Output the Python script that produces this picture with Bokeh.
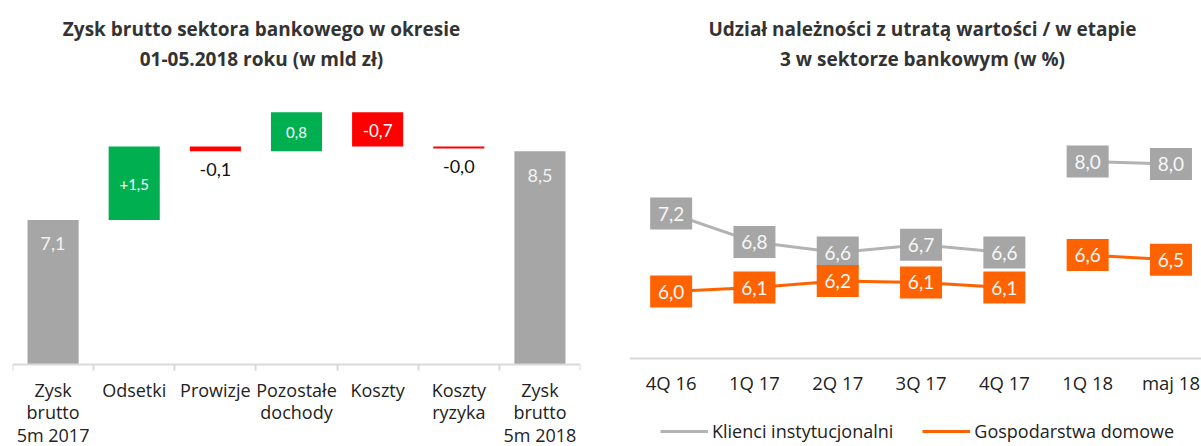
from bokeh.plotting import figure
from bokeh.layouts import row
from bokeh.models import (ColumnDataSource, FixedTicker, Label, Legend, LegendItem,
                          Range1d, LinearAxis)
from bokeh.embed import file_html
from bokeh.resources import INLINE
from bokeh.core.properties import value

# ---------------- data: left chart (waterfall) ----------------
wf_categories = ["Zysk\nbrutto\n5m 2017", "Odsetki", "Prowizje", "Pozostałe\ndochody",
                 "Koszty", "Koszty\nryzyka", "Zysk\nbrutto\n5m 2018"]
wf_start = 7.1
wf_deltas = [1.5, -0.1, 0.8, -0.7, -0.04]
wf_end = 8.5
wf_labels = ["7,1", "+1,5", "-0,1", "0,8", "-0,7", "-0,0", "8,5"]
wf_title = ["Zysk brutto sektora bankowego w okresie", "01-05.2018 roku (w mld zł)"]

# ---------------- data: right chart (lines) ----------------
q_categories = ["4Q 16", "1Q 17", "2Q 17", "3Q 17", "4Q 17", "1Q 18", "maj 18"]
klienci = [7.2, 6.76, 6.6, 6.72, 6.6, 8.0, 7.96]
gospodarstwa = [6.0, 6.06, 6.16, 6.14, 6.06, 6.56, 6.49]
segments = [[0, 1, 2, 3, 4], [5, 6]]   # gap between 4Q 17 and 1Q 18
series_names = ["Klienci instytucjonalni", "Gospodarstwa domowe"]
q_title = ["Udział należności z utratą wartości / w etapie", "3 w sektorze bankowym (w %)"]

GRAY = "#a6a6a6"
LINE_GRAY = "#b3b3b3"
GREEN = "#00b050"
RED = "#ff0000"
ORANGE = "#ff6200"
AXIS = "#d9d9d9"
TITLE_COLOR = "#333333"
TXT = "#222222"
TITLE_FONT = "Open Sans"
CAT_FONT = "Open Sans"
NUM_FONT = "Lato"

H = 446            # canvas height


def style_axis(ax):
    ax.axis_label = None
    ax.major_tick_line_color = None
    ax.major_tick_out = 0
    ax.major_tick_in = 0
    ax.axis_line_color = AXIS
    ax.axis_line_width = 2
    ax.major_label_text_font = CAT_FONT
    ax.major_label_text_color = TXT


# ================= left chart =================
L_W, L_LEFT, L_RIGHT = 620, 12, 40
L_BASE = 4.15                      # value at the category axis line
l_scale = 49.0                     # px per unit
l_axis_px = 364


def l_val(py):
    return L_BASE + (l_axis_px - py) / l_scale


pL = figure(width=L_W, height=H, x_range=Range1d(-0.5, 6.5),
            y_range=Range1d(l_val(H), l_val(0)),
            x_axis_location=None, y_axis_location=None,
            output_backend="svg", toolbar_location=None,
            min_border_left=L_LEFT, min_border_right=L_RIGHT,
            min_border_top=0, min_border_bottom=0)
pL.outline_line_color = None
pL.grid.visible = False

xs, bottoms, tops, colors = [], [], [], []
xs.append(0); bottoms.append(L_BASE); tops.append(wf_start); colors.append(GRAY)
run = wf_start
for i, d in enumerate(wf_deltas):
    xs.append(i + 1); bottoms.append(run); tops.append(run + d)
    colors.append(GREEN if d > 0 else RED)
    run += d
xs.append(len(wf_deltas) + 1); bottoms.append(L_BASE); tops.append(wf_end); colors.append(GRAY)

lab_y, lab_off, lab_col, lab_size = [], [], [], []
for i in range(len(xs)):
    b, t = bottoms[i], tops[i]
    if colors[i] == GRAY:
        lab_y.append(t); lab_off.append(24); lab_col.append("#f2f2f2"); lab_size.append("18px")
    elif abs(t - b) >= 0.5:
        lab_y.append((b + t) / 2); lab_off.append(1); lab_col.append("#ffffff")
        lab_size.append("17px" if colors[i] == RED else "15px")
    else:
        lab_y.append(min(b, t)); lab_off.append(18); lab_col.append("#111111"); lab_size.append("18px")

src_l = ColumnDataSource(dict(x=xs, bottom=bottoms, top=tops, color=colors,
                              ly=lab_y, loff=lab_off, lcol=lab_col, lsize=lab_size,
                              label=wf_labels))
pL.vbar(x="x", bottom="bottom", top="top", width=0.63, fill_color="color",
        line_color=None, source=src_l)
pL.text(x="x", y="ly", text="label", y_offset="loff", text_color="lcol",
        text_font_size="lsize", text_align="center", text_baseline="middle",
        text_font=value(NUM_FONT), source=src_l)

axL = LinearAxis(ticker=FixedTicker(ticks=list(range(len(wf_categories))),
                                    minor_ticks=[i - 0.5 for i in range(len(wf_categories) + 1)]),
                 fixed_location=L_BASE)
style_axis(axL)
axL.major_label_overrides = {i: c for i, c in enumerate(wf_categories)}
axL.minor_tick_line_color = AXIS
axL.minor_tick_line_width = 2
axL.minor_tick_out = 6
axL.minor_tick_in = 0
axL.major_label_standoff = 7
axL.major_label_text_font_size = "18px"
axL.major_label_text_line_height = 0.94
pL.add_layout(axL, "below")

for txt, py in zip(wf_title, [28, 58]):
    pL.add_layout(Label(x=261 - L_LEFT, y=l_val(py), x_units="screen", y_units="data",
                        text=txt, text_align="center", text_baseline="middle",
                        text_font=TITLE_FONT, text_font_style="bold",
                        text_font_size="19px", text_color=TITLE_COLOR))

# ================= right chart =================
R_W, R_LEFT, R_RIGHT = 1201 - L_W, 9, 0
R_X0 = L_W + R_LEFT                # x of frame left edge (= category -0.5)
r_xscale = 83.3
r_scale = 65.0
r_ref_val, r_ref_px = 8.0, 161.0


def r_val(py):
    return r_ref_val + (r_ref_px - py) / r_scale


R_BASE = r_val(357.5)              # value at the category axis line
pR = figure(width=R_W, height=H,
            x_range=Range1d(-0.5, -0.5 + (R_W - R_LEFT - R_RIGHT) / r_xscale),
            y_range=Range1d(r_val(H), r_val(0)),
            x_axis_location=None, y_axis_location=None,
            output_backend="svg", toolbar_location=None,
            min_border_left=R_LEFT, min_border_right=R_RIGHT,
            min_border_top=0, min_border_bottom=0)
pR.outline_line_color = None
pR.grid.visible = False


def seg_xy(vals):
    return [[i for i in s] for s in segments], [[vals[i] for i in s] for s in segments]


gx, gy = seg_xy(klienci)
ox, oy = seg_xy(gospodarstwa)
rg = pR.multi_line(xs=gx, ys=gy, line_color=LINE_GRAY, line_width=3)
ro = pR.multi_line(xs=ox, ys=oy, line_color=ORANGE, line_width=3)


def fmt(v):
    return f"{v:.1f}".replace(".", ",")


idx = list(range(len(q_categories)))
src_g = ColumnDataSource(dict(x=idx, y=klienci, t=[fmt(v) for v in klienci]))
src_o = ColumnDataSource(dict(x=idx, y=gospodarstwa, t=[fmt(v) for v in gospodarstwa]))
for src, col in [(src_g, GRAY), (src_o, ORANGE)]:
    pR.rect(x="x", y="y", width=42, height=32, width_units="screen", height_units="screen",
            fill_color=col, line_color=None, source=src)
    pR.text(x="x", y="y", text="t", text_align="center", text_baseline="middle",
            text_color="#f8f8f8", text_font_size="19px", text_font=value(NUM_FONT), source=src)

axR = LinearAxis(ticker=FixedTicker(ticks=idx, minor_ticks=[]), fixed_location=R_BASE)
style_axis(axR)
axR.major_label_overrides = {i: c for i, c in enumerate(q_categories)}
axR.minor_tick_line_color = None
axR.minor_tick_out = 0
axR.major_label_standoff = 12
axR.major_label_text_font_size = "18.5px"
pR.add_layout(axR, "below")

for txt, py in zip(q_title, [28, 58]):
    pR.add_layout(Label(x=922 - R_X0, y=r_val(py), x_units="screen", y_units="data",
                        text=txt, text_align="center", text_baseline="middle",
                        text_font=TITLE_FONT, text_font_style="bold",
                        text_font_size="19px", text_color=TITLE_COLOR))

legend = Legend(items=[LegendItem(label=series_names[0], renderers=[rg]),
                       LegendItem(label=series_names[1], renderers=[ro])],
                orientation="horizontal", location=(660 - R_X0, 3),
                glyph_width=48, glyph_height=20, label_standoff=4, spacing=29,
                padding=0, margin=0, border_line_color=None, background_fill_alpha=0,
                label_text_font=CAT_FONT, label_text_font_size="18px",
                label_text_color=TXT, label_height=20, label_text_baseline="middle")
pR.add_layout(legend, "center")

layout = row(pL, pR, spacing=0)
open("out.html", "w").write(file_html(layout, INLINE))
